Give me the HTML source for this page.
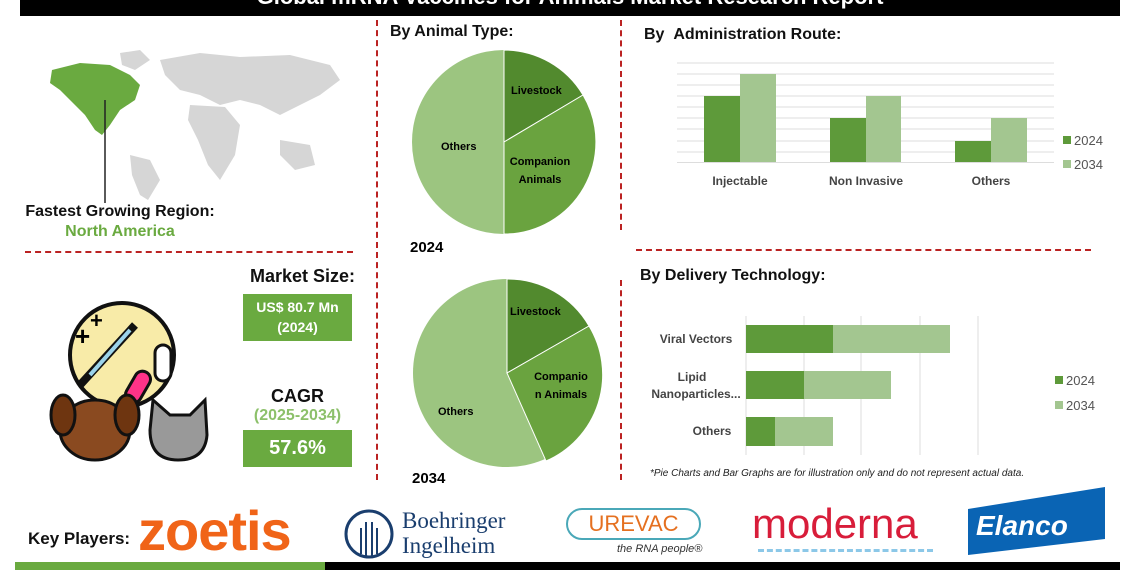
<!DOCTYPE html>
<html><head><meta charset="utf-8"><style>
body{margin:0;width:1140px;height:570px;background:#fff;position:relative;overflow:hidden;font-family:"Liberation Sans",sans-serif}
.a{position:absolute}
.t{font-weight:bold;font-size:16px;color:#111}
</style></head><body>
<div class="a" style="left:20px;top:0;width:1100px;height:16px;background:#000;overflow:hidden"><div style="color:#fff;font-weight:bold;font-size:22px;text-align:center;position:relative;top:-16px">Global mRNA Vaccines for Animals Market Research Report</div></div>

<!-- dividers -->
<div class="a" style="left:376px;top:20px;height:460px;border-left:2px dashed #b22"></div>
<div class="a" style="left:620px;top:20px;height:210px;border-left:2px dashed #b22"></div>
<div class="a" style="left:620px;top:280px;height:200px;border-left:2px dashed #b22"></div>
<div class="a" style="left:25px;top:251px;width:328px;border-top:2px dashed #b22"></div>
<div class="a" style="left:636px;top:249px;width:455px;border-top:2px dashed #b22"></div>

<!-- map -->
<svg class="a" style="left:40px;top:45px" width="310" height="160">
<g fill="#d6d6d6">
<path d="M120 15 L160 8 L200 12 L250 10 L290 20 L300 35 L280 50 L260 60 L240 70 L220 60 L200 55 L180 60 L160 50 L140 45 L125 30Z"/>
<path d="M150 60 L185 62 L200 80 L195 110 L180 135 L168 120 L158 95 L148 75Z"/>
<path d="M240 95 L270 100 L275 120 L255 125 L240 110Z"/>
<path d="M90 110 L110 115 L120 135 L108 155 L100 150 L92 130Z"/>
<path d="M80 8 L100 5 L110 15 L95 25 L82 20Z"/>
</g>
<path fill="#6aaa40" d="M12 25 L40 18 L70 20 L90 30 L100 40 L95 55 L80 65 L70 80 L62 90 L55 85 L45 70 L30 55 L20 45 L10 38Z"/>
<line x1="65" y1="55" x2="65" y2="158" stroke="#222" stroke-width="1.5"/>
</svg>
<div class="a t" style="left:0;width:240px;top:203px;text-align:center">Fastest Growing Region:</div>
<div class="a" style="left:0;width:240px;top:223px;text-align:center;color:#6aaa40;font-weight:bold;font-size:16px">North America</div>

<!-- market size -->
<div class="a t" style="left:250px;top:266px;font-size:18px">Market Size:</div>
<div class="a" style="left:243px;top:294px;width:109px;height:47px;background:#6aaa40;color:#fff;font-weight:bold;font-size:14px;text-align:center;line-height:20px;padding-top:3px;box-sizing:border-box">US$ 80.7 Mn<br>(2024)</div>
<div class="a t" style="left:243px;width:109px;text-align:center;top:386px;font-size:18px">CAGR</div>
<div class="a" style="left:243px;width:109px;text-align:center;top:407px;font-size:16px;font-weight:bold;color:#8cc06a">(2025-2034)</div>
<div class="a" style="left:243px;top:430px;width:109px;height:37px;background:#6aaa40;color:#fff;font-weight:bold;font-size:20px;text-align:center;line-height:37px">57.6%</div>

<!-- icon -->
<svg class="a" style="left:45px;top:300px" width="170" height="165">
<circle cx="77" cy="55" r="52" fill="#f8eba8" stroke="#111" stroke-width="4"/>
<path d="M35 85 L90 25" stroke="#111" stroke-width="8"/><path d="M45 75 L85 30" stroke="#9cd3ea" stroke-width="4"/>
<text x="30" y="45" font-size="26" font-weight="bold">+</text><text x="45" y="28" font-size="22" font-weight="bold">+</text>
<rect x="110" y="45" width="16" height="36" rx="8" fill="#fff" stroke="#111" stroke-width="3"/>
<rect x="85" y="70" width="16" height="34" rx="8" fill="#f38" stroke="#111" stroke-width="3" transform="rotate(30 93 87)"/>
<ellipse cx="50" cy="130" rx="35" ry="30" fill="#8a4a20" stroke="#111" stroke-width="3"/>
<ellipse cx="18" cy="115" rx="12" ry="20" fill="#6e3510" stroke="#111" stroke-width="3"/>
<ellipse cx="82" cy="115" rx="12" ry="20" fill="#6e3510" stroke="#111" stroke-width="3"/>
<path d="M105 130 L108 100 L125 115 L145 115 L160 100 L162 135 Q160 160 133 160 Q105 160 105 130Z" fill="#999" stroke="#111" stroke-width="3"/>
</svg>

<!-- pies -->
<div class="a t" style="left:390px;top:23px">By Animal Type:</div>
<svg class="a" style="left:380px;top:40px" width="240" height="450" font-family="Liberation Sans" font-size="11" font-weight="bold">
<circle cx="124" cy="102" r="92" fill="#9cc580"/>
<path d="M124 102 L124 10 A92 92 0 0 1 203 55 Z" fill="#528a2e" stroke="#fff"/>
<path d="M124 102 L203 55 A92 92 0 0 1 124 194 Z" fill="#6aa33f" stroke="#fff"/>
<line x1="124" y1="10" x2="124" y2="194" stroke="#fff"/>
<text x="131" y="54">Livestock</text>
<text x="160" y="125" text-anchor="middle">Companion</text><text x="160" y="143" text-anchor="middle">Animals</text>
<text x="61" y="110">Others</text>
<text x="30" y="212" font-size="15">2024</text>
<circle cx="127" cy="333" r="94" fill="#9cc580"/>
<path d="M127 333 L127 239 A94 94 0 0 1 209 286 Z" fill="#528a2e" stroke="#fff"/>
<path d="M127 333 L209 286 A94 94 0 0 1 166 421 Z" fill="#6aa33f" stroke="#fff"/>
<line x1="127" y1="239" x2="127" y2="333" stroke="#fff"/>
<text x="130" y="275">Livestock</text>
<text x="181" y="340" text-anchor="middle">Companio</text><text x="181" y="358" text-anchor="middle">n Animals</text>
<text x="58" y="375">Others</text>
<text x="32" y="443" font-size="15">2034</text>
</svg>

<!-- admin route -->
<div class="a t" style="left:644px;top:26px">By &nbsp;Administration Route:</div>
<svg class="a" style="left:630px;top:40px" width="490" height="160" font-family="Liberation Sans" font-size="12">
<g stroke="#ddd"><line x1="47" x2="424" y1="23" y2="23"/><line x1="47" x2="424" y1="34" y2="34"/><line x1="47" x2="424" y1="45" y2="45"/><line x1="47" x2="424" y1="56" y2="56"/><line x1="47" x2="424" y1="67" y2="67"/><line x1="47" x2="424" y1="78" y2="78"/><line x1="47" x2="424" y1="89" y2="89"/><line x1="47" x2="424" y1="101" y2="101"/><line x1="47" x2="424" y1="112" y2="112"/><line x1="47" x2="424" y1="122.5" y2="122.5"/></g>
<rect x="74" y="56" width="36" height="66" fill="#5e9a3a"/><rect x="110" y="34" width="36" height="88" fill="#a3c690"/>
<rect x="200" y="78" width="36" height="44" fill="#5e9a3a"/><rect x="236" y="56" width="35" height="66" fill="#a3c690"/>
<rect x="325" y="101" width="36" height="21" fill="#5e9a3a"/><rect x="361" y="78" width="36" height="44" fill="#a3c690"/>
<g fill="#444" font-weight="bold" text-anchor="middle"><text x="110" y="145">Injectable</text><text x="236" y="145">Non Invasive</text><text x="361" y="145">Others</text></g>
<rect x="433" y="96" width="8" height="8" fill="#5e9a3a"/><text x="444" y="105" fill="#555" font-size="13">2024</text>
<rect x="433" y="120" width="8" height="8" fill="#a3c690"/><text x="444" y="129" fill="#555" font-size="13">2034</text>
</svg>

<!-- delivery -->
<div class="a t" style="left:640px;top:267px">By Delivery Technology:</div>
<svg class="a" style="left:630px;top:300px" width="490" height="180" font-family="Liberation Sans" font-size="12">
<g stroke="#ddd"><line x1="174" x2="174" y1="16" y2="155"/><line x1="231" x2="231" y1="16" y2="155"/><line x1="290" x2="290" y1="16" y2="155"/><line x1="348" x2="348" y1="16" y2="155"/><line x1="116" x2="116" y1="16" y2="155"/></g>
<rect x="116" y="25" width="87" height="28" fill="#5e9a3a"/><rect x="203" y="25" width="117" height="28" fill="#a3c690"/>
<rect x="116" y="71" width="58" height="28" fill="#5e9a3a"/><rect x="174" y="71" width="87" height="28" fill="#a3c690"/>
<rect x="116" y="117" width="29" height="29" fill="#5e9a3a"/><rect x="145" y="117" width="58" height="29" fill="#a3c690"/>
<g fill="#444" font-weight="bold" text-anchor="middle"><text x="66" y="43">Viral Vectors</text><text x="62" y="81">Lipid</text><text x="66" y="98">Nanoparticles...</text><text x="82" y="135">Others</text></g>
<rect x="425" y="76" width="8" height="8" fill="#5e9a3a"/><text x="436" y="85" fill="#555" font-size="13">2024</text>
<rect x="425" y="101" width="8" height="8" fill="#a3c690"/><text x="436" y="110" fill="#555" font-size="13">2034</text>
<text x="20" y="176" font-size="10" font-style="italic" fill="#222">*Pie Charts and Bar Graphs are for illustration only and do not represent actual data.</text>
</svg>

<!-- key players -->
<div class="a" style="left:28px;top:529px;font-size:17px;font-weight:bold;color:#111">Key Players:</div>
<div class="a" style="left:138px;top:498px;font-size:56px;font-weight:bold;color:#f06418;letter-spacing:-1px">zoetis</div>
<svg class="a" style="left:343px;top:508px" width="55" height="52"><circle cx="26" cy="26" r="23" fill="none" stroke="#1a3e6e" stroke-width="3"/><g stroke="#1a3e6e" stroke-width="2"><line x1="18" y1="20" x2="18" y2="46"/><line x1="23" y1="14" x2="23" y2="48"/><line x1="29" y1="14" x2="29" y2="48"/><line x1="34" y1="20" x2="34" y2="46"/></g></svg>
<div class="a" style="left:402px;top:508px;font-family:'Liberation Serif',serif;font-size:23px;line-height:25px;color:#1a3e6e">Boehringer<br>Ingelheim</div>
<div class="a" style="left:566px;top:508px;width:135px;height:32px;border:2px solid #4aa8b8;border-radius:20px;box-sizing:border-box;font-size:22px;color:#e57020;text-align:center;line-height:28px">UREVAC</div>
<div class="a" style="left:617px;top:543px;font-size:11px;font-style:italic;color:#333">the RNA people®</div>
<div class="a" style="left:752px;top:500px;font-size:42px;color:#d81d3a">moderna</div>
<div class="a" style="left:758px;top:549px;width:175px;border-top:3px dashed #8cc8e8"></div>
<svg class="a" style="left:968px;top:487px" width="140" height="70"><polygon points="0,22 137,0 137,52 0,68" fill="#0a64b4"/><text x="8" y="48" fill="#fff" font-family="Liberation Sans" font-size="28" font-weight="bold" font-style="italic">Elanco</text></svg>

<div class="a" style="left:15px;top:562px;width:310px;height:8px;background:#6aaa40"></div>
<div class="a" style="left:325px;top:562px;width:795px;height:8px;background:#000"></div>
</body></html>
